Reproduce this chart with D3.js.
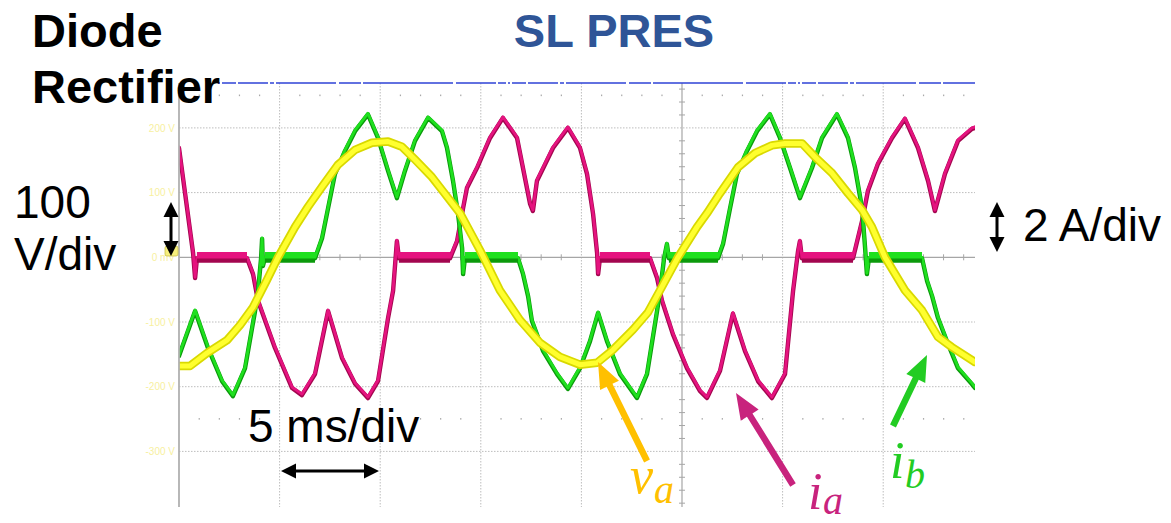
<!DOCTYPE html>
<html>
<head>
<meta charset="utf-8">
<script src="https://cdn.jsdelivr.net/npm/d3@7"></script>
<style>
  html, body { margin: 0; padding: 0; background: #fff; }
  svg { display: block; }
</style>
</head>
<body>
<svg id="chart" width="1171" height="523"></svg>
<script>
// ---- Scope grid: time base (ms) and voltage divisions (V) ----
const timeTicks = [0, 5, 10, 15, 20, 25, 30, 35, 40, 45, 50];
const gridVolts = [400, 300, 200, 100, 0, -100, -200, -300, -400];
const voltTicks = [200, 100, 0, -100, -200, -300];
const voltTickLabels = ["200 V", "100 V", "0 mV", "-100 V", "-200 V", "-300 V"];

// ---- Phase voltage v_a : [time ms, volts] ----
const vaTrace = [
  [0,-168],[0.55,-168],[1.39,-148],[2.39,-128],[3.03,-105],[3.68,-77],[4.37,-35],[4.92,0],
  [5.77,47],[6.41,78],[7.11,109],[7.90,143],[8.75,166],[9.59,177],[10.39,179],[11.08,171],
  [11.73,151],[12.57,124],[13.07,104],[13.97,68],[14.96,11],[15.95,-51],[16.95,-97],[17.94,-132],
  [18.94,-154],[19.93,-166],[20.78,-163],[21.57,-143],[22.56,-112],[23.31,-85],[23.91,-51],[24.80,0],
  [25.75,47],[26.24,68],[26.89,99],[27.78,139],[28.63,161],[29.47,173],[30.12,176],[30.97,176],
  [31.61,155],[32.46,130],[33.25,99],[33.95,73],[34.44,47],[35.09,0],[36.08,-51],[36.93,-82],
  [37.72,-123],[38.42,-139],[39.41,-159],[39.56,-162]
];

// ---- Phase current i_a : [time ms, amps] ----
const iaTrace = [
  [0,3.41],[0.70,0.16],[0.80,-0.61],[0.89,0],[3.38,0],[3.68,-0.49],[3.93,-1.32],[4.77,-2.77],
  [5.62,-4.01],[6.11,-4.23],[6.76,-3.58],[7.41,-1.63],[8.10,-3.08],[8.75,-3.88],[9.39,-4.32],[9.89,-3.80],
  [10.39,-1.85],[10.64,-1.01],[10.83,0.53],[10.93,0],[13.47,0],[13.82,0.53],[14.12,1.55],[14.31,2.17],
  [14.81,2.79],[15.46,3.72],[16.10,4.34],[16.80,3.72],[17.45,1.68],[17.59,1.46],[17.79,2.39],[18.59,3.41],
  [19.33,4.03],[19.93,3.41],[20.28,2.60],[20.58,1.37],[20.78,0.16],[20.83,-0.49],[20.92,0],[23.41,0],
  [23.76,-0.61],[24.01,-1.32],[24.55,-2.35],[25.25,-3.40],[25.89,-4.10],[26.24,-4.32],[26.89,-3.48],[27.53,-1.71],
  [28.13,-2.87],[28.78,-3.80],[29.47,-4.32],[30.12,-3.58],[30.52,-1.01],[30.77,0.23],[30.86,0.53],[30.96,0],
  [33.50,0],[33.95,1.15],[34.24,2.08],[34.74,2.92],[35.44,3.72],[36.08,4.31],[36.73,3.41],[37.23,2.39],
  [37.57,1.46],[38.07,2.61],[38.72,3.63],[39.41,4.00],[39.56,4.03]
];

// ---- Phase current i_b : [time ms, amps] ----
const ibTrace = [
  [0,-3.02],[0.80,-1.63],[1.44,-2.77],[2.14,-3.80],[2.68,-4.26],[3.28,-3.40],[3.78,-1.63],[3.93,-1.01],
  [4.08,0],[4.13,0.60],[4.17,-0.24],[4.27,0],[6.76,0],[7.11,0.62],[7.41,1.55],[7.75,2.60],
  [8.25,3.32],[8.75,3.93],[9.39,4.45],[9.89,3.72],[10.39,2.70],[10.83,1.86],[11.23,2.70],[11.73,3.63],
  [12.38,4.34],[13.07,3.93],[13.32,3.41],[13.62,2.39],[13.87,1.37],[14.07,0.32],[14.12,-0.49],[14.21,0],
  [16.85,0],[17.10,-0.49],[17.35,-1.17],[17.54,-1.93],[18.09,-2.86],[18.79,-3.58],[19.33,-4.04],[19.93,-3.40],
  [20.43,-2.56],[20.83,-1.69],[21.27,-2.56],[21.92,-3.58],[22.76,-4.32],[23.26,-3.58],[23.76,-1.63],[23.91,-1.01],
  [24.11,0],[24.25,0.44],[24.35,0],[26.79,0],[27.04,0.44],[27.39,1.55],[27.73,2.60],[28.23,3.32],
  [28.73,3.93],[29.37,4.45],[29.87,3.72],[30.37,2.79],[30.86,1.86],[31.46,2.79],[31.96,3.72],[32.70,4.45],
  [33.25,3.72],[33.60,2.79],[33.95,1.55],[34.10,0.32],[34.19,-0.49],[34.29,0],[36.93,0],[37.18,-0.70],
  [37.43,-1.17],[37.72,-1.84],[38.22,-2.65],[38.72,-3.40],[39.41,-3.89],[39.56,-4.01]
];

// ---- Annotation texts ----
const titleLines = ["Diode", "Rectifier"];
const methodTitle = "SL PRES";
const voltScaleText = ["100", "V/div"];
const currentScaleText = "2 A/div";
const timeScaleText = "5 ms/div";

// ---- Layout ----
const svg = d3.select("#chart");
const screen = { left: 179, top: 83, right: 975, bottom: 507 };
const zeroY = 257.3, divY = 64.7, divX = 100.6;

const x = d3.scaleLinear().domain([0, 50]).range([screen.left, screen.left + 10 * divX]);
const yV = d3.scaleLinear().domain([-400, 400]).range([zeroY + 4 * divY, zeroY - 4 * divY]);
const yI = d3.scaleLinear().domain([-8, 8]).range([zeroY + 4 * divY, zeroY - 4 * divY]);

svg.append("defs").append("clipPath").attr("id", "screenClip")
  .append("rect")
  .attr("x", screen.left).attr("y", screen.top)
  .attr("width", screen.right - screen.left).attr("height", screen.bottom - screen.top);

const scr = svg.append("g").attr("clip-path", "url(#screenClip)");

// dotted graticule
scr.append("g").selectAll("line")
  .data(timeTicks.filter(t => t !== 0 && t !== 25))
  .join("line")
  .attr("x1", d => x(d)).attr("x2", d => x(d))
  .attr("y1", screen.top).attr("y2", screen.bottom)
  .attr("stroke", "#bdbdbd").attr("stroke-width", 1).attr("stroke-dasharray", "1.5,1.5");

scr.append("g").selectAll("line")
  .data(gridVolts.filter(v => v !== 0))
  .join("line")
  .attr("x1", screen.left).attr("x2", screen.right)
  .attr("y1", d => yV(d)).attr("y2", d => yV(d))
  .attr("stroke", "#bdbdbd").attr("stroke-width", 1).attr("stroke-dasharray", "1.5,1.5");

// minor tick dots on the +/-2.5 div rows
const minorT = d3.range(0, 50.01, 1);
[250, -250].forEach(v => {
  scr.append("g").selectAll("rect")
    .data(minorT.filter(t => t % 5 !== 0))
    .join("rect")
    .attr("x", d => x(d) - 0.5).attr("y", yV(v) - 1)
    .attr("width", 1.2).attr("height", 1.6)
    .attr("fill", "#a8a8a8");
});

// centre axes with minor ticks
scr.append("line")
  .attr("x1", screen.left).attr("x2", screen.right)
  .attr("y1", yV(0)).attr("y2", yV(0))
  .attr("stroke", "#a6a6a6").attr("stroke-width", 1.2);
scr.append("line")
  .attr("x1", x(25)).attr("x2", x(25))
  .attr("y1", screen.top).attr("y2", screen.bottom)
  .attr("stroke", "#a6a6a6").attr("stroke-width", 1.2);
scr.append("g").selectAll("line")
  .data(minorT.filter(t => t % 5 !== 0))
  .join("line")
  .attr("x1", d => x(d)).attr("x2", d => x(d))
  .attr("y1", yV(0) - 3).attr("y2", yV(0) + 3)
  .attr("stroke", "#a6a6a6").attr("stroke-width", 1);
scr.append("g").selectAll("line")
  .data(d3.range(-400, 400.1, 20).filter(v => v % 100 !== 0))
  .join("line")
  .attr("x1", x(25) - 3).attr("x2", x(25) + 3)
  .attr("y1", d => yV(d)).attr("y2", d => yV(d))
  .attr("stroke", "#a6a6a6").attr("stroke-width", 1);

// screen top border (timeline bar)
svg.append("line")
  .attr("x1", 218).attr("x2", screen.right)
  .attr("y1", screen.top).attr("y2", screen.top)
  .attr("stroke", "#2f43d6").attr("stroke-width", 1.5)
  .attr("stroke-dasharray", "2,2,14,2,30,2,4,2,60,3,22,2,90,3,40,2,8,2");

// left border of the screen
svg.append("line")
  .attr("x1", screen.left).attr("x2", screen.left)
  .attr("y1", screen.top).attr("y2", screen.bottom)
  .attr("stroke", "#b0b0b0").attr("stroke-width", 1.8);

// voltage scale labels
const yAxis = d3.axisLeft(yV)
  .tickValues(voltTicks)
  .tickSize(0)
  .tickPadding(3)
  .tickFormat((d, i) => voltTickLabels[i]);
const axG = svg.append("g")
  .attr("transform", `translate(${screen.left - 1},0)`)
  .call(yAxis);
axG.select(".domain").remove();
axG.selectAll("text")
  .attr("fill", "#f7f0a0")
  .style("font-family", "'Liberation Sans', Arial, sans-serif")
  .style("font-size", "10px");

// ---- traces ----
const lineV = d3.line().x(d => x(d[0])).y(d => yV(d[1]));
const lineI = d3.line().x(d => x(d[0])).y(d => yI(d[1]));

function zeroRuns(data) {
  const runs = [];
  for (let i = 0; i < data.length - 1; i++) {
    if (data[i][1] === 0 && data[i + 1][1] === 0) runs.push([data[i], data[i + 1]]);
  }
  return runs;
}

function drawCurrent(data, bright, dark) {
  const g = scr.append("g").attr("fill", "none")
    .attr("stroke-linejoin", "round").attr("stroke-linecap", "round");
  g.append("path").attr("d", lineI(data))
    .attr("transform", "translate(0,1)")
    .attr("stroke", dark).attr("stroke-width", 4.4);
  g.append("path").attr("d", lineI(data))
    .attr("stroke", bright).attr("stroke-width", 2.8);
  // conduction-off intervals carry a wide noise band around zero
  const runs = zeroRuns(data);
  g.selectAll("path.bandDark").data(runs).join("path")
    .attr("d", d => lineI(d))
    .attr("transform", "translate(0,2.5)")
    .attr("stroke", dark).attr("stroke-width", 6).attr("stroke-linecap", "butt");
  g.selectAll("path.bandBright").data(runs).join("path")
    .attr("d", d => lineI(d))
    .attr("transform", "translate(0,-2)")
    .attr("stroke", bright).attr("stroke-width", 6.5).attr("stroke-linecap", "butt");
}

drawCurrent(iaTrace, "#e5137f", "#a3064f");
drawCurrent(ibTrace, "#1fe01f", "#0b9a0b");

const vg = scr.append("g").attr("fill", "none")
  .attr("stroke-linejoin", "round").attr("stroke-linecap", "round");
vg.append("path").attr("d", lineV(vaTrace))
  .attr("stroke", "#d9d900").attr("stroke-width", 8.5);
vg.append("path").attr("d", lineV(vaTrace))
  .attr("stroke", "#ffff2e").attr("stroke-width", 5);

// channel 1 ground marker
svg.append("rect").attr("x", 165).attr("y", 246).attr("width", 13).attr("height", 10)
  .attr("rx", 2).attr("fill", "#f6ef7c").attr("stroke", "#c9bf4a").attr("stroke-width", 0.8);

// ---- arrows ----
function arrowPts(x1, y1, x2, y2, sw, hl, hw, both) {
  const dx = x2 - x1, dy = y2 - y1, L = Math.hypot(dx, dy);
  const ux = dx / L, uy = dy / L, px = -uy, py = ux;
  const b2x = x2 - ux * hl, b2y = y2 - uy * hl;
  const pts = [];
  if (both) {
    const b1x = x1 + ux * hl, b1y = y1 + uy * hl;
    pts.push([x1, y1], [b1x + px * hw / 2, b1y + py * hw / 2], [b1x + px * sw / 2, b1y + py * sw / 2]);
  } else {
    pts.push([x1 + px * sw / 2, y1 + py * sw / 2]);
  }
  pts.push([b2x + px * sw / 2, b2y + py * sw / 2], [b2x + px * hw / 2, b2y + py * hw / 2], [x2, y2],
           [b2x - px * hw / 2, b2y - py * hw / 2], [b2x - px * sw / 2, b2y - py * sw / 2]);
  if (both) {
    const b1x = x1 + ux * hl, b1y = y1 + uy * hl;
    pts.push([b1x - px * sw / 2, b1y - py * sw / 2], [b1x - px * hw / 2, b1y - py * hw / 2]);
  } else {
    pts.push([x1 - px * sw / 2, y1 - py * sw / 2]);
  }
  return pts.map(p => p.join(",")).join(" ");
}

// scale arrows
svg.append("polygon").attr("points", arrowPts(171, 202, 171, 256, 3, 15, 15, true)).attr("fill", "#000");
svg.append("polygon").attr("points", arrowPts(997, 202, 997, 252, 3, 15, 15, true)).attr("fill", "#000");
svg.append("polygon").attr("points", arrowPts(281, 471, 379, 471, 3, 15, 15, true)).attr("fill", "#000");

// trace pointer arrows
svg.append("polygon").attr("points", arrowPts(647, 461, 598, 362, 6.5, 26, 21, false)).attr("fill", "#ffc000");
svg.append("polygon").attr("points", arrowPts(793, 485, 736, 393, 6.5, 26, 21, false)).attr("fill", "#c8237d");
svg.append("polygon").attr("points", arrowPts(893, 426, 927, 355, 6.5, 26, 21, false)).attr("fill", "#22cc22");

// ---- text ----
const sans = "'Liberation Sans', Arial, sans-serif";
const serif = "'Liberation Serif', 'Times New Roman', serif";

svg.append("g").selectAll("text").data(titleLines).join("text")
  .attr("x", 32).attr("y", (d, i) => 47 + i * 56)
  .style("font-family", sans).style("font-weight", "bold").style("font-size", "47px")
  .attr("fill", "#000").text(d => d);

svg.append("text").attr("x", 614).attr("y", 47).attr("text-anchor", "middle")
  .style("font-family", sans).style("font-weight", "bold").style("font-size", "47px")
  .attr("fill", "#2f5597").text(methodTitle);

svg.append("g").selectAll("text").data(voltScaleText).join("text")
  .attr("x", 14).attr("y", (d, i) => 218 + i * 52)
  .style("font-family", sans).style("font-size", "46px")
  .attr("fill", "#000").text(d => d);

svg.append("text").attr("x", 1023).attr("y", 241)
  .style("font-family", sans).style("font-size", "46px")
  .attr("fill", "#000").text(currentScaleText);

svg.append("text").attr("x", 248).attr("y", 442)
  .style("font-family", sans).style("font-size", "46px")
  .attr("fill", "#000").text(timeScaleText);

function mathLabel(x0, y0, main, sub, color, subDx, subDy) {
  const g = svg.append("g").attr("fill", color)
    .style("font-family", serif).style("font-style", "italic");
  g.append("text").attr("x", x0).attr("y", y0).style("font-size", "52px").text(main);
  g.append("text").attr("x", x0 + subDx).attr("y", y0 + subDy).style("font-size", "40px").text(sub);
}
mathLabel(630, 493, "v", "a", "#ffc000", 24, 10);
mathLabel(808, 509, "i", "a", "#c8237d", 15, 5);
mathLabel(890, 478, "i", "b", "#22cc22", 15, 10);
</script>
</body>
</html>
